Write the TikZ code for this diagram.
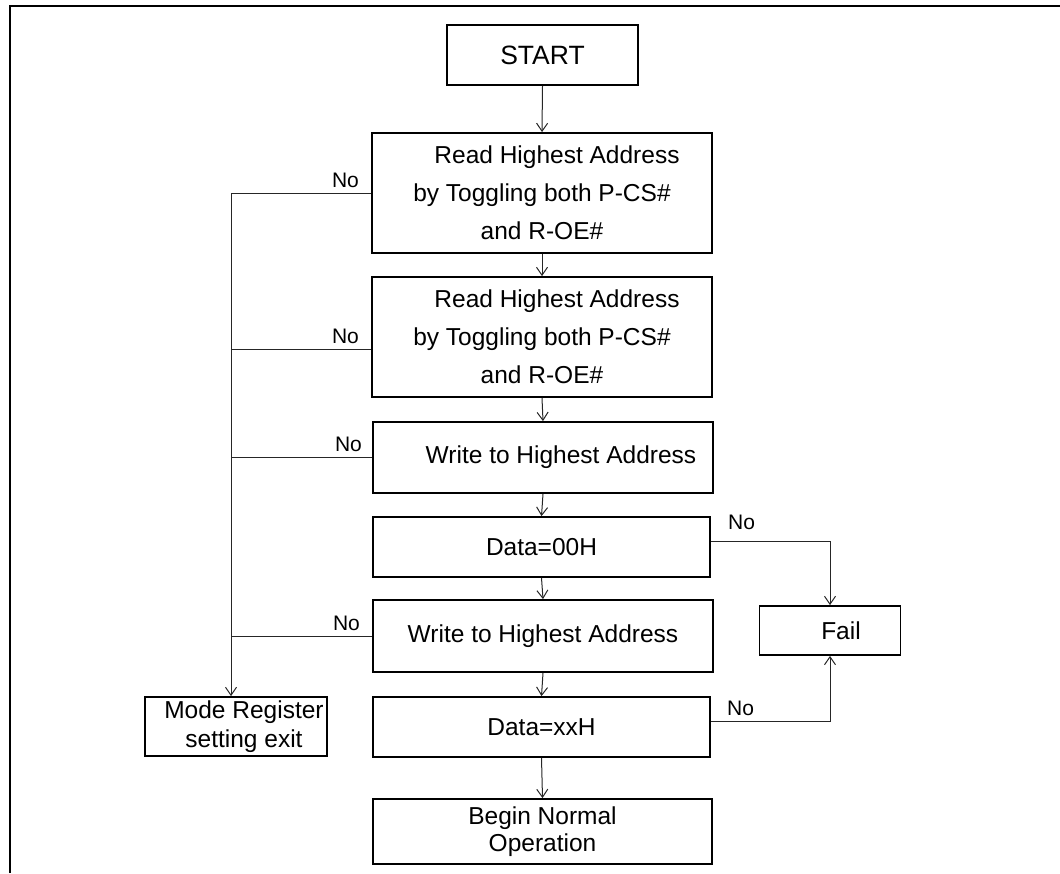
\documentclass[tikz,border=0pt]{standalone}
\usepackage{fontspec}
\setmainfont{Liberation Sans}
\usetikzlibrary{arrows.meta}
\begin{document}
\begin{tikzpicture}[x=1pt,y=-1pt,
  stepbox/.style={draw=black, line width=1.8pt, inner sep=0pt, align=center,
    font=\fontsize{24.5}{38}\selectfont},
  link/.style={draw=black!85, line width=1pt},
  flow/.style={link, -{Straight Barb[length=8pt,width=11pt,line width=1pt]}},
  nolabel/.style={font=\fontsize{21}{24}\selectfont, inner sep=0pt}]
\useasboundingbox (0,0) rectangle (1060,873);

% page frame (top and left rules)
\draw[line width=2.7pt] (10,873) -- (10,6) -- (1060,6);

% process boxes
\node[stepbox, minimum width=191pt, minimum height=60pt,
  font=\fontsize{26.5}{30}\selectfont] (start) at (542.5,55) {START};
\node[stepbox, minimum width=340pt, minimum height=120pt] (read1) at (542,193)
  {\hspace*{30pt}Read Highest Address\\by Toggling both P-CS\#\\and R-OE\#};
\node[stepbox, minimum width=340pt, minimum height=120pt] (read2) at (542,337)
  {\hspace*{30pt}Read Highest Address\\by Toggling both P-CS\#\\and R-OE\#};
\node[stepbox, minimum width=340pt, minimum height=71pt] (write1) at (543,457.5)
  {\hspace*{36pt}Write to Highest Address};
\node[stepbox, minimum width=337pt, minimum height=60pt] (data00) at (541.5,547)
  {Data=00H};
\node[stepbox, minimum width=340pt, minimum height=72pt] (write2) at (543,636)
  {Write to Highest Address};
\node[stepbox, minimum width=337pt, minimum height=60pt] (dataxx) at (541.5,727)
  {Data=xxH};
\node[stepbox, minimum width=339pt, minimum height=65pt,
  font=\fontsize{24.5}{27}\selectfont] (begin) at (542.5,831.5)
  {Begin Normal\\Operation};
\node[stepbox, minimum width=182pt, minimum height=59pt,
  font=\fontsize{24.5}{29}\selectfont] (mode) at (236,726.5)
  {\hspace*{16pt}Mode Register\\\hspace*{16pt}setting exit};
\node[stepbox, minimum width=141pt, minimum height=49pt] (fail) at (830,630.5)
  {\hspace*{22pt}Fail};

% main flow
\draw[flow] (start.south) -- (read1.north);
\draw[flow] (read1.south) -- (read2.north);
\draw[flow] (read2.south) -- (write1.north);
\draw[flow] (write1.south) -- (data00.north);
\draw[flow] (data00.south) -- (write2.north);
\draw[flow] (write2.south) -- (dataxx.north);
\draw[flow] (dataxx.south) -- (begin.north);

% exit branch on the left
\coordinate (trunk) at (231,0);
\draw[link] (read1.west) -- (read1.west -| trunk);
\draw[flow] (read1.west -| trunk) -- (trunk |- mode.north);
\draw[link] ([yshift=-12pt]read2.west) -- ([yshift=-12pt]read2.west -| trunk);
\draw[link] (write1.west) -- (write1.west -| trunk);
\draw[link] (write2.west) -- (write2.west -| trunk);

\node[nolabel, anchor=base east] (no1) at ([xshift=-12pt,yshift=6pt]read1.west) {No};
\node[nolabel, anchor=base east] (no2) at ([xshift=-12pt,yshift=-6pt]read2.west) {No};
\node[nolabel, anchor=base east] (no3) at ([xshift=-10pt,yshift=6pt]write1.west) {No};
\node[nolabel, anchor=base east] (no4) at ([xshift=-12pt,yshift=6pt]write2.west) {No};

% fail branch on the right
\draw[flow] ([yshift=6pt]data00.east) -| (fail.north);
\draw[flow] ([yshift=6pt]dataxx.east) -| (fail.south);
\node[nolabel, anchor=base west] (no5) at ([xshift=17pt,yshift=18pt]data00.east) {No};
\node[nolabel, anchor=base west] (no6) at ([xshift=16pt,yshift=12pt]dataxx.east) {No};
\end{tikzpicture}
\end{document}
